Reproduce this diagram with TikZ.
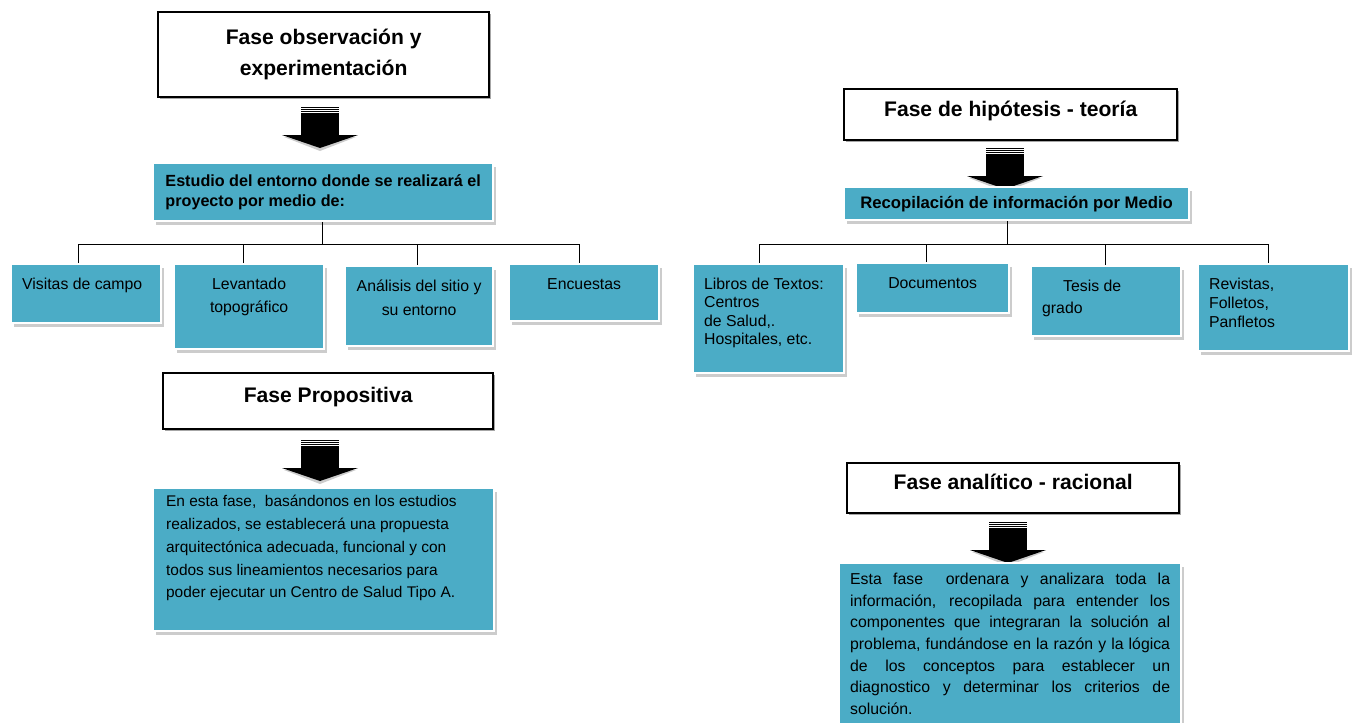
\documentclass[tikz,border=0pt]{standalone}
\usepackage{fontspec}
\setmainfont{Liberation Sans}
\usetikzlibrary{shadows}

\definecolor{azulcaja}{HTML}{4BACC6}
\newcommand{\textocaja}[3]{\parbox[c][#1][t]{#2}{#3}}

\tikzset{
  fase/.style={draw=black, line width=1.4pt, fill=white, anchor=north west, inner sep=0pt, align=center,
    font=\bfseries\fontsize{12}{17.6}\selectfont,
    drop shadow={shadow xshift=1.2pt, shadow yshift=-1.2pt, fill=black!35, opacity=1}},
  caja/.style={draw=white, line width=1.3pt, fill=azulcaja, anchor=north west, inner xsep=0.22cm, inner ysep=0.28cm,
    font=\fontsize{9}{13}\selectfont,
    drop shadow={shadow xshift=1.5pt, shadow yshift=-2pt, fill=black!20, opacity=1}},
  linea/.style={draw=black, line width=0.6pt},
  pics/flecha/.style={code={
    \foreach \k in {0.5,2.5,4.5}
      \draw[line width=0.6pt] (-19,\k) -- (19,\k);
    \fill (-19,6) rectangle (19,28);
    \fill[black!20] (-36,30) -- (36,30) -- (0,44) -- cycle;
    \fill (-38,28) -- (38,28) -- (0,41) -- cycle;
  }}
}

\begin{document}
\begin{tikzpicture}[x=0.02cm, y=-0.02cm]

\useasboundingbox (0,0) rectangle (1355,723);

% lado izquierdo
\node[fase, minimum width=6.62cm, minimum height=1.70cm] (fobs) at (157,11) {Fase observación y\\experimentación};
\pic at (320,107) {flecha};
\node[caja, inner ysep=0.08cm, minimum width=6.8cm, minimum height=1.16cm, align=left,
  font=\bfseries\fontsize{9.2}{11}\selectfont] (estudio) at (152,162)
  {Estudio del entorno donde se realizará el\\proyecto por medio de:};

\node[caja] (visitas) at (10,263) {\textocaja{0.62cm}{2.56cm}{\raggedright Visitas de campo}};
\node[caja] (levantado) at (173,263) {\textocaja{1.14cm}{2.56cm}{\centering Levantado\\topográfico}};
\node[caja, font=\fontsize{9}{13.6}\selectfont] (analisis) at (344,265) {\textocaja{1.04cm}{2.52cm}{\centering Análisis del sitio y\\su entorno}};
\node[caja] (encuestas) at (508,263) {\textocaja{0.58cm}{2.56cm}{\centering Encuestas}};

\draw[linea] ([xshift=-0.02cm]estudio.south) -- ++(0,22) coordinate (hl);
\draw[linea] ([xshift=-0.16cm]visitas.north) |- (hl) -| ([xshift=-0.1cm]encuestas.north);
\draw[linea] ([xshift=-0.12cm]levantado.north) -- ([xshift=-0.12cm]levantado.north |- hl);
\draw[linea] ([xshift=-0.04cm]analisis.north) -- ([xshift=-0.04cm]analisis.north |- hl);

\node[fase, minimum width=6.6cm, minimum height=1.12cm, text depth=7pt] (fprop) at (162,372) {Fase Propositiva};
\pic at (320,440) {flecha};
\node[caja, inner xsep=0.26cm, inner ysep=0.14cm, font=\fontsize{8.8}{13}\selectfont] (propuesta) at (152,487)
  {\textocaja{2.58cm}{6.3cm}{\raggedright En esta fase,\ \ basándonos en los estudios\\realizados, se establecerá una propuesta\\arquitectónica adecuada, funcional y con\\todos sus lineamientos necesarios para\\poder ejecutar un Centro de Salud Tipo A.}};

% lado derecho
\node[fase, minimum width=6.66cm, minimum height=1.02cm, text depth=7pt] (fhip) at (843,88) {Fase de hipótesis - teoría};
\pic at (1005,148) {flecha};
\node[caja, inner ysep=0.04cm, minimum width=6.9cm, minimum height=0.66cm,
  font=\bfseries\fontsize{9.5}{11}\selectfont] (recop) at (843,186) {Recopilación de información por Medio};

\node[caja, font=\fontsize{9}{10.4}\selectfont] (libros) at (692,263)
  {\textocaja{1.62cm}{2.58cm}{\raggedright Libros de Textos:\\Centros\\de Salud,.\\Hospitales, etc.}};
\node[caja] (docs) at (855,262) {\textocaja{0.44cm}{2.62cm}{\centering Documentos}};
\node[caja, font=\fontsize{9}{12.5}\selectfont] (tesis) at (1030,265)
  {\textocaja{0.84cm}{2.56cm}{\raggedright\hspace*{0.42cm}Tesis de\\grado}};
\node[caja, font=\fontsize{9}{10.8}\selectfont] (revistas) at (1197,263)
  {\textocaja{1.18cm}{2.58cm}{\raggedright Revistas,\\Folletos,\\Panfletos}};

\draw[linea] ([xshift=-0.19cm]recop.south) -- ++(0,23) coordinate (hr);
\draw[linea] ([xshift=-0.18cm]libros.north) |- (hr) -| ([xshift=-0.1cm]revistas.north);
\draw[linea] ([xshift=-0.12cm]docs.north) -- ([xshift=-0.12cm]docs.north |- hr);
\draw[linea] ([xshift=-0.02cm]tesis.north) -- ([xshift=-0.02cm]tesis.north |- hr);

\node[fase, minimum width=6.64cm, minimum height=1.0cm, text depth=7pt] (fanal) at (846,462) {Fase analítico - racional};
\pic at (1008,522) {flecha};
\node[caja, inner ysep=0.2cm, font=\fontsize{9}{12.3}\selectfont] (analitico) at (838,562)
  {\textocaja{3.1cm}{6.4cm}{Esta fase\ \ ordenara y analizara toda la\linebreak
   información, recopilada para entender los\linebreak
   componentes que integraran la solución al\linebreak
   problema, fundándose en la razón y la lógica\linebreak
   de los conceptos para establecer un\linebreak
   diagnostico y determinar los criterios de\linebreak
   solución.}};

\end{tikzpicture}
\end{document}
